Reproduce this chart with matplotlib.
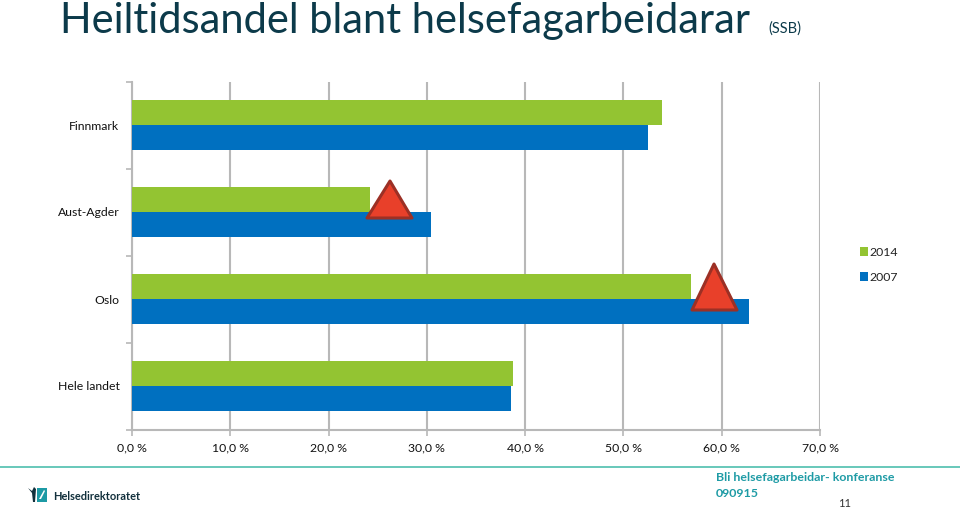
import matplotlib
matplotlib.use('Agg')
import matplotlib.pyplot as plt
from matplotlib.patches import Polygon, Rectangle
from matplotlib.lines import Line2D
import numpy as np

plt.rcParams['font.family'] = ['Lato', 'DejaVu Sans']

# Values, bottom to top
categories = ['Hele landet', 'Oslo', 'Aust-Agder', 'Finnmark']
values_2014 = [38.8, 56.9, 24.2, 53.9]
values_2007 = [38.6, 62.8, 30.4, 52.5]
xticks = [0, 10, 20, 30, 40, 50, 60, 70]
xticklabels = ['0,0 %', '10,0 %', '20,0 %', '30,0 %', '40,0 %', '50,0 %', '60,0 %', '70,0 %']

W, H = 960, 508
green = '#93c432'
blue = '#0070c0'
grid = '#b8b8b8'
teal = '#1e9ba5'
dark = '#12303c'


def fx(px):
    return px / W


def fy(py):
    return 1 - py / H


fig = plt.figure(figsize=(9.6, 5.08), dpi=100)
ax = fig.add_axes([fx(132), fy(429.5), fx(820 - 132), (430 - 82) / H])

y = np.arange(len(categories))
h = 0.287
ax.barh(y + h / 2, values_2014, h, color=green, zorder=3, label='2014')
ax.barh(y - h / 2, values_2007, h, color=blue, zorder=3, label='2007')

ax.set_xlim(0, 70)
ax.set_ylim(-0.5, 3.5)
ax.set_xticks(xticks)
ax.set_xticklabels(xticklabels, fontsize=8.8, color='#111111')
ax.set_yticks(y)
ax.set_yticklabels(categories, fontsize=8.8, color='#111111')
ax.tick_params(axis='y', length=0, pad=12)
ax.tick_params(axis='y', which='major', pad=9)
ax.tick_params(axis='x', length=4, color=grid, width=1.2, pad=5)
ax.set_yticks(np.arange(-0.5, 4), minor=True)
ax.tick_params(axis='y', which='minor', length=4, color=grid, width=1.2)
ax.grid(axis='x', color=grid, linewidth=1.5, zorder=0)
for s in ['top', 'right']:
    ax.spines[s].set_visible(False)
for s in ['left', 'bottom']:
    ax.spines[s].set_color(grid)
    ax.spines[s].set_linewidth(1.5)

# Legend
ax.legend(loc='upper left', bbox_to_anchor=(fx(860), fy(247)), bbox_transform=fig.transFigure,
          frameon=False, fontsize=8.8, handlelength=0.65, handleheight=0.75,
          handletextpad=0.1, labelspacing=1.15, borderpad=0, borderaxespad=0,
          labelcolor='#222222')

# Red warning triangles
for apex, top, left, right, base in [(390, 181, 367, 412, 218), (714, 264, 692, 737, 310)]:
    tri = Polygon([(fx(apex), fy(top)), (fx(left), fy(base)), (fx(right), fy(base))],
                  closed=True, transform=fig.transFigure, facecolor='#e8402a',
                  edgecolor='#9c3025', linewidth=2.2, joinstyle='round', zorder=5)
    fig.add_artist(tri)

# Title
fig.text(fx(60), fy(33), 'Heiltidsandel blant helsefagarbeidarar', fontsize=30,
         color='#0c3a4a', va='baseline', ha='left')
fig.text(fx(768), fy(33), '(SSB)', fontsize=10.5, color='#0c3a4a', va='baseline', ha='left')

# Footer
fig.add_artist(Line2D([0, 1], [fy(467), fy(467)], color='#5cc4b4', linewidth=1.3))
fig.text(fx(716), fy(481), 'Bli helsefagarbeidar- konferanse', fontsize=8.95, color=teal,
         fontweight='bold', va='baseline')
fig.text(fx(716), fy(497), '090915', fontsize=8.95, color=teal, fontweight='bold', va='baseline')
fig.text(fx(838), fy(507), '11', fontsize=8, color='#333333', va='baseline')

# Logo
fig.add_artist(Rectangle((fx(37), fy(502)), 10 / W, 14 / H, transform=fig.transFigure,
                         facecolor='#1d9aa5', edgecolor='none'))
fig.add_artist(Polygon([(fx(39), fy(499)), (fx(41), fy(499)), (fx(45), fy(491)), (fx(44), fy(490))],
                       closed=True, transform=fig.transFigure, facecolor='white', edgecolor='none'))
fig.add_artist(Polygon([(fx(28), fy(488)), (fx(32), fy(491)), (fx(34), fy(487)), (fx(36), fy(489)),
                        (fx(35), fy(502)), (fx(33), fy(502)), (fx(32), fy(493))],
                       closed=True, transform=fig.transFigure, facecolor=dark, edgecolor='none'))
fig.text(fx(53), fy(500), 'Helsedirektoratet', fontsize=7.9, color=dark,
         fontweight='bold', va='baseline')

plt.savefig('out.png', dpi=100)
